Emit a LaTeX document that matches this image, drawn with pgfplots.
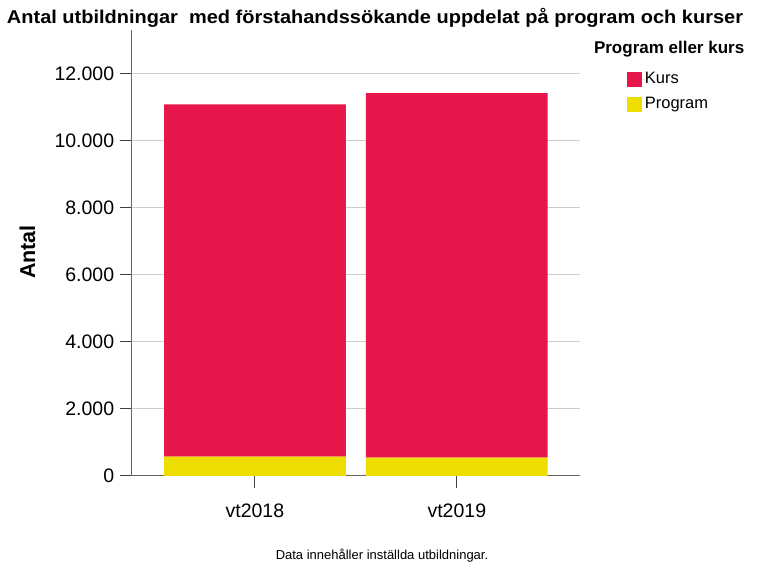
\documentclass[border=0pt]{standalone}
\usepackage{pgfplots}
\pgfplotsset{compat=1.18}
\usepackage{fontspec}
\setmainfont{Liberation Sans}
\definecolor{kurs}{RGB}{232,23,75}
\definecolor{prog}{RGB}{238,221,0}
\definecolor{gridc}{RGB}{205,205,205}
\definecolor{axc}{RGB}{100,100,100}
\begin{document}
\begin{tikzpicture}[x=1bp,y=1bp]
\path[use as bounding box] (0,0) rectangle (764,572);
\begin{axis}[
  at={(131.7bp,96bp)}, anchor=south west,
  scale only axis, width=448.3bp, height=446bp,
  xmin=-0.61, xmax=1.61, ymin=0, ymax=13300,
  ybar stacked, bar width=0.9, bar shift=0pt,
  xtick={0,1}, xticklabels={vt2018,vt2019},
  ytick={0,2000,4000,6000,8000,10000,12000},
  scaled y ticks=false,
  axis x line=bottom, axis y line=left,
  axis line style={draw=axc, line width=1bp, -},
  x axis line style={-}, y axis line style={-},
  ymajorgrids, grid style={draw=gridc, line width=1bp},
  tick style={draw=black!75, line width=1bp},
  tick align=outside, major tick length=12bp,
  /pgf/number format/.cd, 1000 sep={.}, fixed, precision=0, assume math mode=true,
  /pgfplots/.cd,
  ticklabel style={font=\fontsize{19.5bp}{22bp}\selectfont},
  yticklabel style={xshift=-2bp},
  xticklabel style={yshift=-12bp},
  ylabel={\textbf{Antal}},
  ylabel style={font=\fontsize{21.5bp}{24bp}\selectfont, at={(axis description cs:-0.2324,0.502)}, anchor=center},
  legend style={draw=none, fill=none, at={(rel axis cs:1.104,0.907)}, anchor=north west,
    inner sep=0pt, row sep=10bp, font=\fontsize{16.5bp}{18bp}\selectfont,
    nodes={inner sep=0pt, text height=11.5bp, text depth=3.5bp},
    cells={anchor=west}},
  legend cell align=left,
  reverse legend,
]
\addplot[fill=prog, draw=none, legend image code/.code={\fill[prog] (0bp,-7.5bp) rectangle (15bp,7.5bp);\path (15bp,0) -- (18bp,0);}] coordinates {(0,580) (1,545)};
\addlegendentry{Program}
\addplot[fill=kurs, draw=none, legend image code/.code={\fill[kurs] (0bp,-7.5bp) rectangle (15bp,7.5bp);\path (15bp,0) -- (18bp,0);}] coordinates {(0,10505) (1,10870)};
\addlegendentry{Kurs}
\end{axis}
\node[anchor=center, font=\bfseries\fontsize{18.5bp}{21bp}\selectfont] at (375,554) {\scalebox{1.08}[1]{Antal utbildningar\ \ med förstahandssökande uppdelat på program och kurser}};
\node[anchor=west, font=\bfseries\fontsize{17bp}{20bp}\selectfont] at (590.5,523) {Program eller kurs};
\node[anchor=center, font=\fontsize{13bp}{15bp}\selectfont] at (382,16) {Data innehåller inställda utbildningar.};
\end{tikzpicture}
\end{document}
